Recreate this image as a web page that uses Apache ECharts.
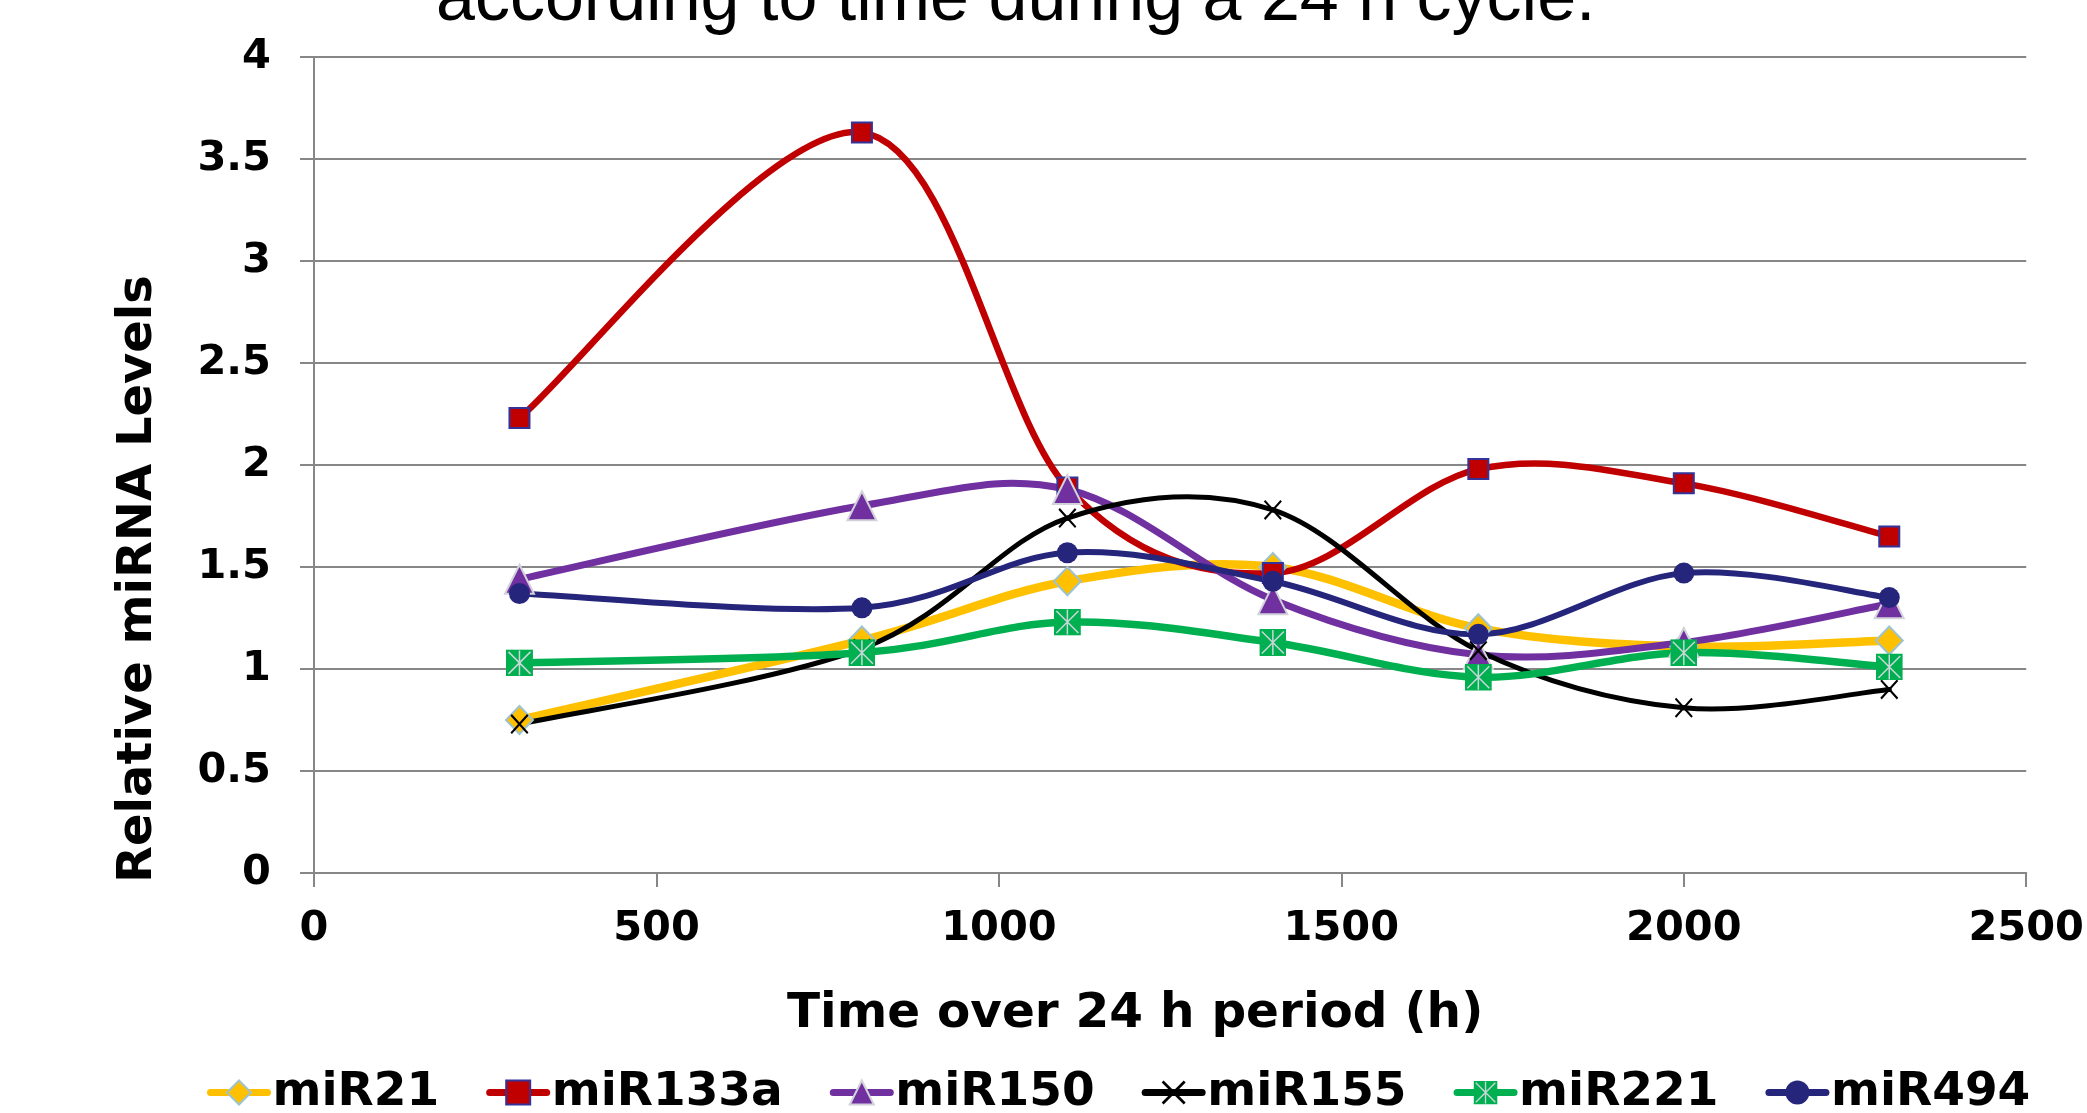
<!DOCTYPE html>
<html>
<head>
<meta charset="utf-8">
<script src="https://cdn.jsdelivr.net/npm/echarts@6/dist/echarts.min.js"></script>
<style>
html,body{margin:0;padding:0;background:#fff;}
#chart{width:2087px;height:1113px;}
</style>
</head>
<body>
<div id="chart"></div>
<script>
// ---- data ----
const titleText = 'according to time during a 24 h cycle.';
const xAxisName = 'Time over 24 h period (h)';
const yAxisName = 'Relative miRNA Levels';
const seriesNames = ['miR21', 'miR133a', 'miR150', 'miR155', 'miR221', 'miR494'];
const times   = [300, 800, 1100, 1400, 1700, 2000, 2300];
const miR21   = [0.75, 1.14, 1.43, 1.50, 1.20, 1.11, 1.14];
const miR133a = [2.23, 3.63, 1.89, 1.47, 1.98, 1.91, 1.65];
const miR150  = [1.44, 1.80, 1.88, 1.34, 1.07, 1.13, 1.32];
const miR155  = [0.73, 1.10, 1.74, 1.78, 1.09, 0.81, 0.90];
const miR221  = [1.03, 1.08, 1.23, 1.13, 0.96, 1.08, 1.01];
const miR494  = [1.37, 1.30, 1.57, 1.43, 1.17, 1.47, 1.35];
const xMin = 0, xMax = 2500, xStep = 500;
const yMin = 0, yMax = 4, yStep = 0.5;

const values = [miR21, miR133a, miR150, miR155, miR221, miR494];
function pairs(v){ return times.map((t,i)=>[t, v[i]]); }

const FONT = '"DejaVu Sans", Verdana, sans-serif';
const GRID = '#878787';

const starSvg = "<svg xmlns='http://www.w3.org/2000/svg' width='54' height='54' viewBox='0 0 54 54'>" +
  "<rect width='54' height='54' fill='#00B050'/>" +
  "<path d='M5,5L49,49M49,5L5,49M27,2L27,52' stroke='#C9D6DA' stroke-width='3'/></svg>";
const starSymbol = 'image://data:image/svg+xml;utf8,' + encodeURIComponent(starSvg);
const crossSymbol = 'path://M0,0.8L0.8,0L10,9.2L9.2,10ZM9.2,0L10,0.8L0.8,10L0,9.2Z';

const styles = [
  {color:'#FFC000', width:8.5, symbol:'diamond', size:[27,28], border:'#9DC3CF', bw:2},
  {color:'#C00000', width:6.5, symbol:'rect', size:[20,20], border:'#33339A', bw:2},
  {color:'#7030A0', width:7, symbol:'triangle', size:[29,29], border:'#D2D2DA', bw:2},
  {color:'#000000', width:5, symbol:crossSymbol, size:[18,20], border:'#000', bw:0},
  {color:'#00B050', width:7.5, symbol:starSymbol, size:[27,27], border:'#00B050', bw:0},
  {color:'#25257C', width:6, symbol:'circle', size:[21,21], border:'#25257C', bw:0}
];

// Smoothed curve (Catmull-Rom style, as in the original spreadsheet chart),
// computed from the data through the axis scales (api.coord).
function curveSeries(i) {
  const vals = values[i];
  const n = times.length;
  const st = styles[i];
  return {
    type: 'custom',
    name: seriesNames[i] + ' (curve)',
    data: pairs(vals),
    silent: true,
    renderItem: function (params, api) {
      const k = params.dataIndex;
      if (k >= n - 1) return null;
      const P = j => { const c = Math.max(0, Math.min(n - 1, j)); return api.coord([times[c], vals[c]]); };
      const p0 = P(k - 1), p1 = P(k), p2 = P(k + 1), p3 = P(k + 2);
      return {
        type: 'bezierCurve',
        shape: {
          x1: p1[0], y1: p1[1], x2: p2[0], y2: p2[1],
          cpx1: p1[0] + (p2[0] - p0[0]) / 6, cpy1: p1[1] + (p2[1] - p0[1]) / 6,
          cpx2: p2[0] - (p3[0] - p1[0]) / 6, cpy2: p2[1] - (p3[1] - p1[1]) / 6
        },
        style: {stroke: st.color, lineWidth: st.width, fill: 'none', lineCap: 'round'}
      };
    }
  };
}

function markerSeries(i) {
  const st = styles[i];
  return {
    name: seriesNames[i],
    type: 'line',
    data: pairs(values[i]),
    symbol: st.symbol,
    symbolSize: st.size,
    showAllSymbol: true,
    lineStyle: {color: st.color, width: 0},
    itemStyle: {color: st.color, borderColor: st.border, borderWidth: st.bw, opacity: 1},
    emphasis: {disabled: true}
  };
}

const series = [];
seriesNames.forEach((n, i) => { series.push(curveSeries(i)); series.push(markerSeries(i)); });

const legendData = seriesNames.map((n, i) => ({
  name: n,
  lineStyle: {color: styles[i].color, width: 7, opacity: 1, cap: 'round'}
}));

const chart = echarts.init(document.getElementById('chart'), null, {renderer: 'canvas'});
chart.setOption({
  animation: false,
  backgroundColor: '#ffffff',
  title: {
    text: titleText,
    left: 436,
    top: -34,
    padding: 0,
    textStyle: {fontFamily: '"Liberation Sans", Arial, sans-serif', fontWeight: 'normal', fontSize: 70, color: '#000'}
  },
  grid: {left: 314, right: 38, top: 57, bottom: 240, containLabel: false},
  legend: {
    data: legendData,
    left: 202,
    top: 1064,
    itemWidth: 57,
    itemHeight: 30,
    itemGap: 47,
    textStyle: {fontFamily: FONT, fontWeight: 'bold', fontSize: 47, color: '#000'}
  },
  xAxis: {
    type: 'value',
    min: xMin, max: xMax, interval: xStep,
    name: xAxisName,
    nameLocation: 'middle',
    nameGap: 117,
    nameTextStyle: {fontFamily: FONT, fontWeight: 'bold', fontSize: 48.5, color: '#000', padding: [0, 70, 0, 0]},
    axisLine: {show: true, lineStyle: {color: GRID, width: 2}},
    axisTick: {show: true, length: 14, lineStyle: {color: GRID, width: 2}},
    axisLabel: {margin: 35, fontFamily: FONT, fontWeight: 'bold', fontSize: 41.5, color: '#000', formatter: v => String(v)},
    splitLine: {show: false}
  },
  yAxis: {
    type: 'value',
    min: yMin, max: yMax, interval: yStep,
    name: yAxisName,
    nameLocation: 'middle',
    nameGap: 151,
    nameTextStyle: {fontFamily: FONT, fontWeight: 'bold', fontSize: 48, color: '#000', padding: [0, 228, 0, 0]},
    axisLine: {show: true, lineStyle: {color: GRID, width: 2}},
    axisTick: {show: true, length: 14, lineStyle: {color: GRID, width: 2}},
    axisLabel: {margin: 43, fontFamily: FONT, fontWeight: 'bold', fontSize: 41.5, color: '#000', formatter: v => String(v)},
    splitLine: {show: true, lineStyle: {color: GRID, width: 2}}
  },
  series: series
});
</script>
</body>
</html>
